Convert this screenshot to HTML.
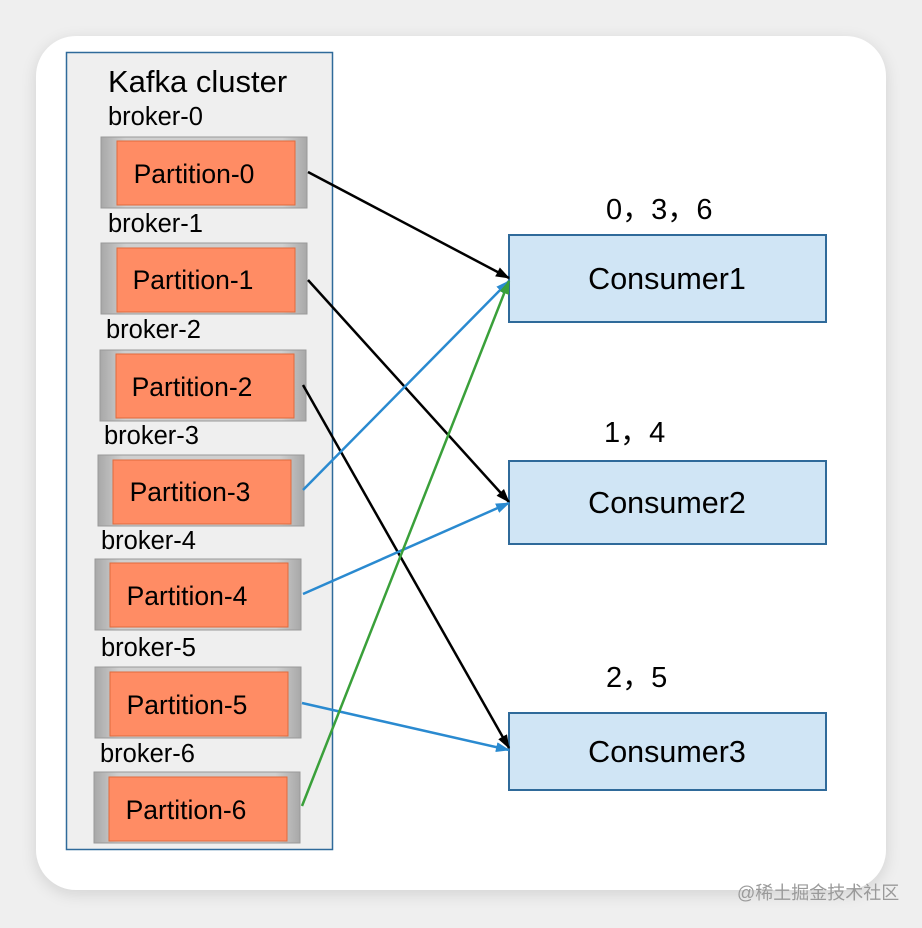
<!DOCTYPE html>
<html><head><meta charset="utf-8"><style>
html,body{margin:0;padding:0;background:#efefef;}
body{width:922px;height:928px;position:relative;overflow:hidden;font-family:"Liberation Sans",sans-serif;}
.card{position:absolute;left:36px;top:36px;width:850px;height:854px;background:#fff;border-radius:40px;box-shadow:0 4px 16px rgba(0,0,0,0.12);}
</style></head><body>
<div class="card"></div>
<svg width="922" height="928" style="position:absolute;left:0;top:0" font-family="Liberation Sans, sans-serif">
<defs>
<marker id="ak" markerWidth="14" markerHeight="12" refX="13" refY="6" orient="auto" markerUnits="userSpaceOnUse"><path d="M0,1 L14,6 L0,11 z" fill="#000"/></marker>
<marker id="ab" markerWidth="14" markerHeight="12" refX="13" refY="6" orient="auto" markerUnits="userSpaceOnUse"><path d="M0,1 L14,6 L0,11 z" fill="#2a8ad0"/></marker>
<marker id="ag" markerWidth="14" markerHeight="12" refX="13" refY="6" orient="auto" markerUnits="userSpaceOnUse"><path d="M0,1 L14,6 L0,11 z" fill="#3aa03a"/></marker>
<linearGradient id="gr" x1="0" x2="1"><stop offset="0" stop-color="#a8a8a8"/><stop offset="0.12" stop-color="#cfcfcf"/><stop offset="0.88" stop-color="#cfcfcf"/><stop offset="1" stop-color="#a8a8a8"/></linearGradient>
</defs>
<rect x="66.5" y="52.5" width="266" height="797" fill="#efefef" stroke="#2f6a9a" stroke-width="1.5"/>
<text x="108" y="92" font-size="31">Kafka cluster</text>
<g font-size="25.5">
<text x="108" y="125">broker-0</text>
<text x="108" y="232">broker-1</text>
<text x="106" y="338">broker-2</text>
<text x="104" y="444">broker-3</text>
<text x="101" y="549">broker-4</text>
<text x="101" y="656">broker-5</text>
<text x="100" y="762">broker-6</text>
</g>
<g stroke="#999" stroke-width="1">
<rect x="101" y="137" width="206" height="71" fill="url(#gr)"/>
<rect x="101" y="243" width="206" height="71" fill="url(#gr)"/>
<rect x="100" y="350" width="206" height="71" fill="url(#gr)"/>
<rect x="98" y="455" width="206" height="71" fill="url(#gr)"/>
<rect x="95" y="559" width="206" height="71" fill="url(#gr)"/>
<rect x="95" y="667" width="206" height="71" fill="url(#gr)"/>
<rect x="94" y="772" width="206" height="71" fill="url(#gr)"/>
</g>
<g fill="#ff8c64" stroke="#e06a3c" stroke-width="1">
<rect x="117" y="141" width="178" height="64"/>
<rect x="117" y="248" width="178" height="64"/>
<rect x="116" y="354" width="178" height="64"/>
<rect x="113" y="460" width="178" height="64"/>
<rect x="110" y="563" width="178" height="64"/>
<rect x="110" y="672" width="178" height="64"/>
<rect x="109" y="777" width="178" height="64"/>
</g>
<g font-size="26.5" text-anchor="middle">
<text x="194" y="183">Partition-0</text>
<text x="193" y="289">Partition-1</text>
<text x="192" y="396">Partition-2</text>
<text x="190" y="501">Partition-3</text>
<text x="187" y="605">Partition-4</text>
<text x="187" y="714">Partition-5</text>
<text x="186" y="819">Partition-6</text>
</g>
<g fill="#d0e5f5" stroke="#2f6a9a" stroke-width="2">
<rect x="509" y="235" width="317" height="87"/>
<rect x="509" y="461" width="317" height="83"/>
<rect x="509" y="713" width="317" height="77"/>
</g>
<g font-size="30.5" text-anchor="middle">
<text x="667" y="289">Consumer1</text>
<text x="667" y="513">Consumer2</text>
<text x="667" y="762">Consumer3</text>
</g>
<g font-size="29" font-family="Liberation Sans, Noto Sans CJK SC, sans-serif">
<text x="606" y="219">0<tspan font-family="Noto Sans CJK SC">，</tspan>3<tspan font-family="Noto Sans CJK SC">，</tspan>6</text>
<text x="604" y="442">1<tspan font-family="Noto Sans CJK SC">，</tspan>4</text>
<text x="606" y="687">2<tspan font-family="Noto Sans CJK SC">，</tspan>5</text>
</g>
<g stroke-width="2.5" fill="none">
<line x1="308" y1="172" x2="509" y2="278" stroke="#000" marker-end="url(#ak)"/>
<line x1="308" y1="280" x2="509" y2="502" stroke="#000" marker-end="url(#ak)"/>
<line x1="303" y1="385" x2="509" y2="748" stroke="#000" marker-end="url(#ak)"/>
<line x1="303" y1="490" x2="509" y2="281" stroke="#2a8ad0" marker-end="url(#ab)"/>
<line x1="303" y1="594" x2="509" y2="503" stroke="#2a8ad0" marker-end="url(#ab)"/>
<line x1="302" y1="703" x2="509" y2="750" stroke="#2a8ad0" marker-end="url(#ab)"/>
<line x1="302" y1="806" x2="509" y2="281" stroke="#3aa03a" marker-end="url(#ag)"/>
</g>
<text x="737" y="899" font-size="18" fill="#9a9a9a" font-family="Liberation Sans, Noto Sans CJK SC, sans-serif">@稀土掘金技术社区</text>
</svg>
</body></html>
